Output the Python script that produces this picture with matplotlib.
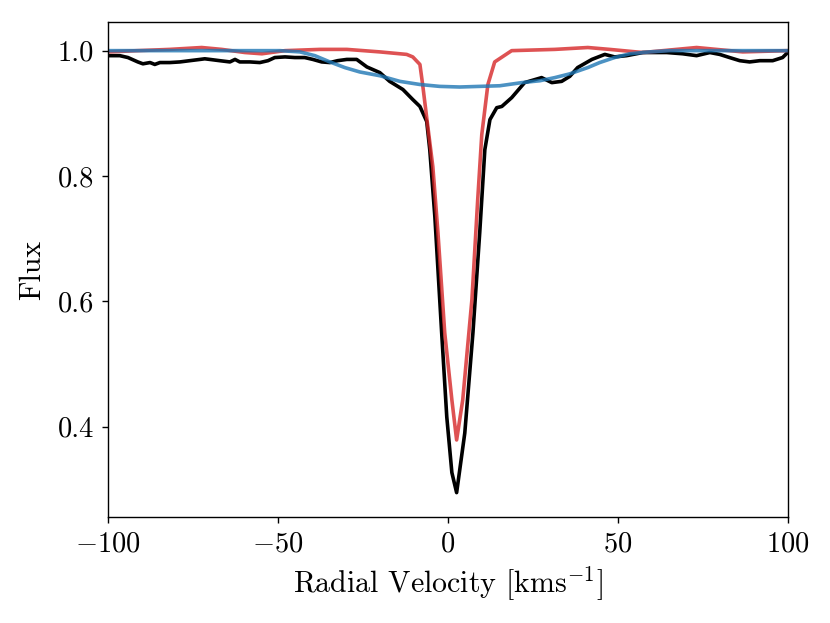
import matplotlib
matplotlib.use("Agg")
import matplotlib.pyplot as plt
import numpy as np

# observed line profile (black)
obs_v = [-100.0, -96.5, -94.1, -91.2, -89.7, -87.6, -86.2, -84.7, -81.8, -78.8,
         -75.9, -72.9, -71.5, -70.0, -67.1, -64.1, -62.6, -61.2, -58.2, -55.3,
         -52.9, -50.9, -47.9, -45.0, -42.1, -39.7, -37.1, -34.7, -32.4, -29.7,
         -26.8, -23.8, -20.0, -17.1, -13.2, -10.3, -8.2, -6.2, -5.3, -3.8,
         -1.8, -0.3, 1.2, 2.6, 5.0, 7.4, 9.4, 10.9, 12.4, 14.4,
         15.9, 18.8, 22.6, 27.6, 30.6, 33.5, 35.9, 38.2, 42.4, 46.2,
         49.1, 52.6, 57.4, 64.4, 69.1, 73.2, 77.1, 80.0, 82.9, 85.9,
         88.8, 91.8, 95.6, 98.5, 100.0]
obs_f = [0.992, 0.992, 0.989, 0.982, 0.979, 0.981, 0.978, 0.981, 0.981, 0.982,
         0.984, 0.986, 0.987, 0.986, 0.984, 0.982, 0.986, 0.982, 0.982, 0.981,
         0.984, 0.989, 0.990, 0.989, 0.989, 0.986, 0.982, 0.981, 0.984, 0.986,
         0.986, 0.974, 0.965, 0.951, 0.938, 0.922, 0.911, 0.887, 0.842, 0.735,
         0.550, 0.416, 0.327, 0.295, 0.390, 0.550, 0.710, 0.842, 0.890, 0.909,
         0.911, 0.925, 0.949, 0.957, 0.949, 0.951, 0.959, 0.973, 0.986, 0.994,
         0.990, 0.992, 0.997, 0.997, 0.995, 0.992, 0.997, 0.994, 0.989, 0.984,
         0.982, 0.984, 0.984, 0.989, 0.997]

# narrow component (red)
narrow_v = [-100.0, -91.2, -81.8, -72.4, -66.5, -59.7, -54.7, -47.9, -37.6, -29.7,
            -20.0, -12.1, -10.3, -8.2, -7.4, -6.2, -4.4, -2.9, -0.9, 1.2,
            2.6, 4.4, 7.1, 8.8, 10.0, 11.8, 13.8, 18.8, 31.5, 41.2,
            47.6, 57.4, 73.2, 86.8, 100.0]
narrow_f = [0.998, 1.000, 1.002, 1.005, 1.002, 0.997, 0.995, 1.000, 1.002, 1.002,
            0.998, 0.994, 0.990, 0.978, 0.946, 0.893, 0.815, 0.710, 0.550, 0.443,
            0.379, 0.443, 0.603, 0.762, 0.866, 0.946, 0.982, 1.000, 1.002, 1.005,
            1.002, 0.997, 1.005, 0.998, 1.000]

# broad component (blue)
broad_v = [-100.0, -72.9, -49.4, -43.5, -39.1, -34.7, -30.3, -25.9, -20.0, -14.1,
           -8.2, -2.4, 3.5, 9.4, 15.3, 21.8, 27.1, 31.5, 35.9, 41.2,
           44.7, 49.1, 53.5, 59.4, 65.3, 100.0]
broad_f = [1.000, 1.000, 1.000, 0.998, 0.992, 0.982, 0.973, 0.966, 0.960, 0.951,
           0.946, 0.943, 0.942, 0.943, 0.944, 0.949, 0.952, 0.957, 0.963, 0.973,
           0.981, 0.989, 0.995, 0.998, 1.000, 1.000]

plt.rcParams["font.family"] = "serif"
plt.rcParams["font.serif"] = ["cmr10"]
plt.rcParams["mathtext.fontset"] = "cm"
plt.rcParams["axes.formatter.use_mathtext"] = True
plt.rcParams["font.size"] = 20

fig = plt.figure(figsize=(8.3, 6.23), dpi=100)
ax = fig.add_axes([0.130, 0.170, 0.819, 0.795])

ax.plot(obs_v, obs_f, color="black", lw=2.6)
ax.plot(narrow_v, narrow_f, color="tab:red", lw=2.6, alpha=0.8)
ax.plot(broad_v, broad_f, color="tab:blue", lw=2.6, alpha=0.8)

ax.set_xlim(-100, 100)
ax.set_ylim(0.256, 1.046)
ax.set_xticks([-100, -50, 0, 50, 100])
ax.set_yticks([0.4, 0.6, 0.8, 1.0])
ax.set_yticklabels(["0.4", "0.6", "0.8", "1.0"])
ax.tick_params(length=4.5, width=1.0, pad=5.5, labelsize=20.5)
for s in ax.spines.values():
    s.set_linewidth(1.0)

ax.set_xlabel(r"Radial Velocity [kms$^{-1}$]", fontsize=21.5, labelpad=5)
ax.set_ylabel("Flux", fontsize=21.5, labelpad=8)

fig.savefig("out.png", dpi=100)
